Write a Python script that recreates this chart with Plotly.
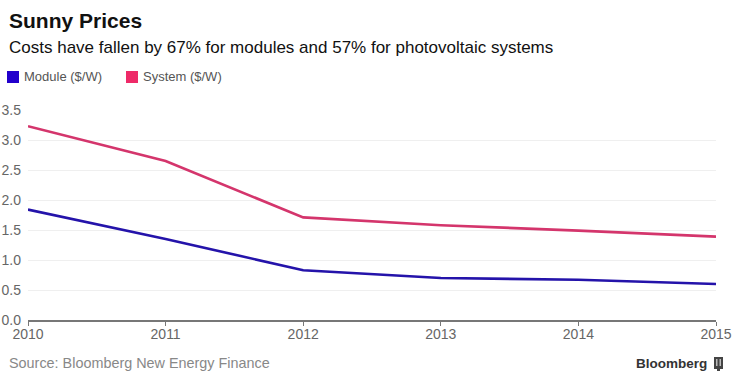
import plotly.graph_objects as go

# ---- data ----
years = [2010, 2011, 2012, 2013, 2014, 2015]
module_cost = [1.84, 1.35, 0.83, 0.70, 0.67, 0.60]
system_cost = [3.23, 2.65, 1.71, 1.58, 1.49, 1.39]
y_ticks = [0.0, 0.5, 1.0, 1.5, 2.0, 2.5, 3.0, 3.5]
y_tick_labels = ["0.0", "0.5", "1.0", "1.5", "2.0", "2.5", "3.0", "3.5"]
x_tick_labels = ["2010", "2011", "2012", "2013", "2014", "2015"]

W, H = 732, 377
L, R, T, B = 28, 16, 110, 57
PW, PH = W - L - R, H - T - B

def px(x):
    return (x - L) / PW

def py(y):
    return (H - B - y) / PH

FONT = "Liberation Sans, Arial, Helvetica, sans-serif"
MOD_LINE = "#2413aa"
SYS_LINE = "#d4356c"
MOD_SQ = "#2200cc"
SYS_SQ = "#ee2a68"

fig = go.Figure()
fig.add_trace(go.Scatter(x=years, y=module_cost, mode="lines", name="Module ($/W)",
                         line=dict(color=MOD_LINE, width=2.6)))
fig.add_trace(go.Scatter(x=years, y=system_cost, mode="lines", name="System ($/W)",
                         line=dict(color=SYS_LINE, width=2.6)))

annotations = [
    dict(text="<b>Sunny Prices</b>", x=px(7), y=py(20), xanchor="left", yanchor="middle",
         font=dict(size=21, color="#111111", family=FONT)),
    dict(text="Costs have fallen by 67% for modules and 57% for photovoltaic systems",
         x=px(7), y=py(48), xanchor="left", yanchor="middle",
         font=dict(size=17, color="#111111", family=FONT)),
    dict(text="Module ($/W)", x=px(22), y=py(77), xanchor="left", yanchor="middle",
         font=dict(size=13, color="#555555", family=FONT)),
    dict(text="System ($/W)", x=px(141), y=py(77), xanchor="left", yanchor="middle",
         font=dict(size=13, color="#555555", family=FONT)),
    dict(text="Source: Bloomberg New Energy Finance", x=px(7), y=py(363), xanchor="left",
         yanchor="middle", font=dict(size=14.4, color="#888888", family=FONT)),
    dict(text="<b>Bloomberg</b>", x=px(709), y=py(363), xanchor="right", yanchor="middle",
         font=dict(size=13.5, color="#333333", family=FONT)),
]
for a in annotations:
    a.update(xref="paper", yref="paper", showarrow=False)

shapes = [
    dict(type="rect", x0=px(7), x1=px(19), y0=py(83), y1=py(71), fillcolor=MOD_SQ, line_width=0),
    dict(type="rect", x0=px(126), x1=px(138), y0=py(83), y1=py(71), fillcolor=SYS_SQ, line_width=0),
    # Bloomberg icon
    dict(type="rect", x0=px(714), x1=px(723), y0=py(369), y1=py(357), fillcolor="#444444", line_width=0),
    dict(type="rect", x0=px(717), x1=px(720), y0=py(371), y1=py(368), fillcolor="#444444", line_width=0),
    dict(type="rect", x0=px(716), x1=px(717.5), y0=py(366), y1=py(359), fillcolor="#bbbbbb", line_width=0),
    dict(type="rect", x0=px(719.5), x1=px(721), y0=py(366), y1=py(359), fillcolor="#bbbbbb", line_width=0),
]
for s in shapes:
    s.update(xref="paper", yref="paper")

fig.update_layout(
    width=W, height=H,
    margin=dict(l=L, r=R, t=T, b=B, pad=0, autoexpand=False),
    paper_bgcolor="white", plot_bgcolor="white",
    showlegend=False,
    annotations=annotations, shapes=shapes,
    font=dict(family=FONT),
    xaxis=dict(range=[2010, 2015], tickvals=years, ticktext=x_tick_labels, automargin=False,
               showgrid=False, zeroline=False, showline=True, linecolor="#777777", linewidth=1.5,
               ticks="outside", ticklen=4, tickcolor="#777777", tickwidth=1,
               ticklabelstandoff=-4,
               tickfont=dict(size=14, color="#666666", family=FONT), fixedrange=True),
    yaxis=dict(range=[0, 3.5], tickvals=y_ticks, ticktext=y_tick_labels, automargin=False,
               showgrid=True, gridcolor="#efefef", gridwidth=1, zeroline=False, showline=False,
               ticks="", ticklabelstandoff=6,
               tickfont=dict(size=14, color="#666666", family=FONT), fixedrange=True),
)

fig.write_html("out.html", config={"displayModeBar": False},
               post_script="document.body.style.margin='0';document.body.style.overflow='hidden';")
